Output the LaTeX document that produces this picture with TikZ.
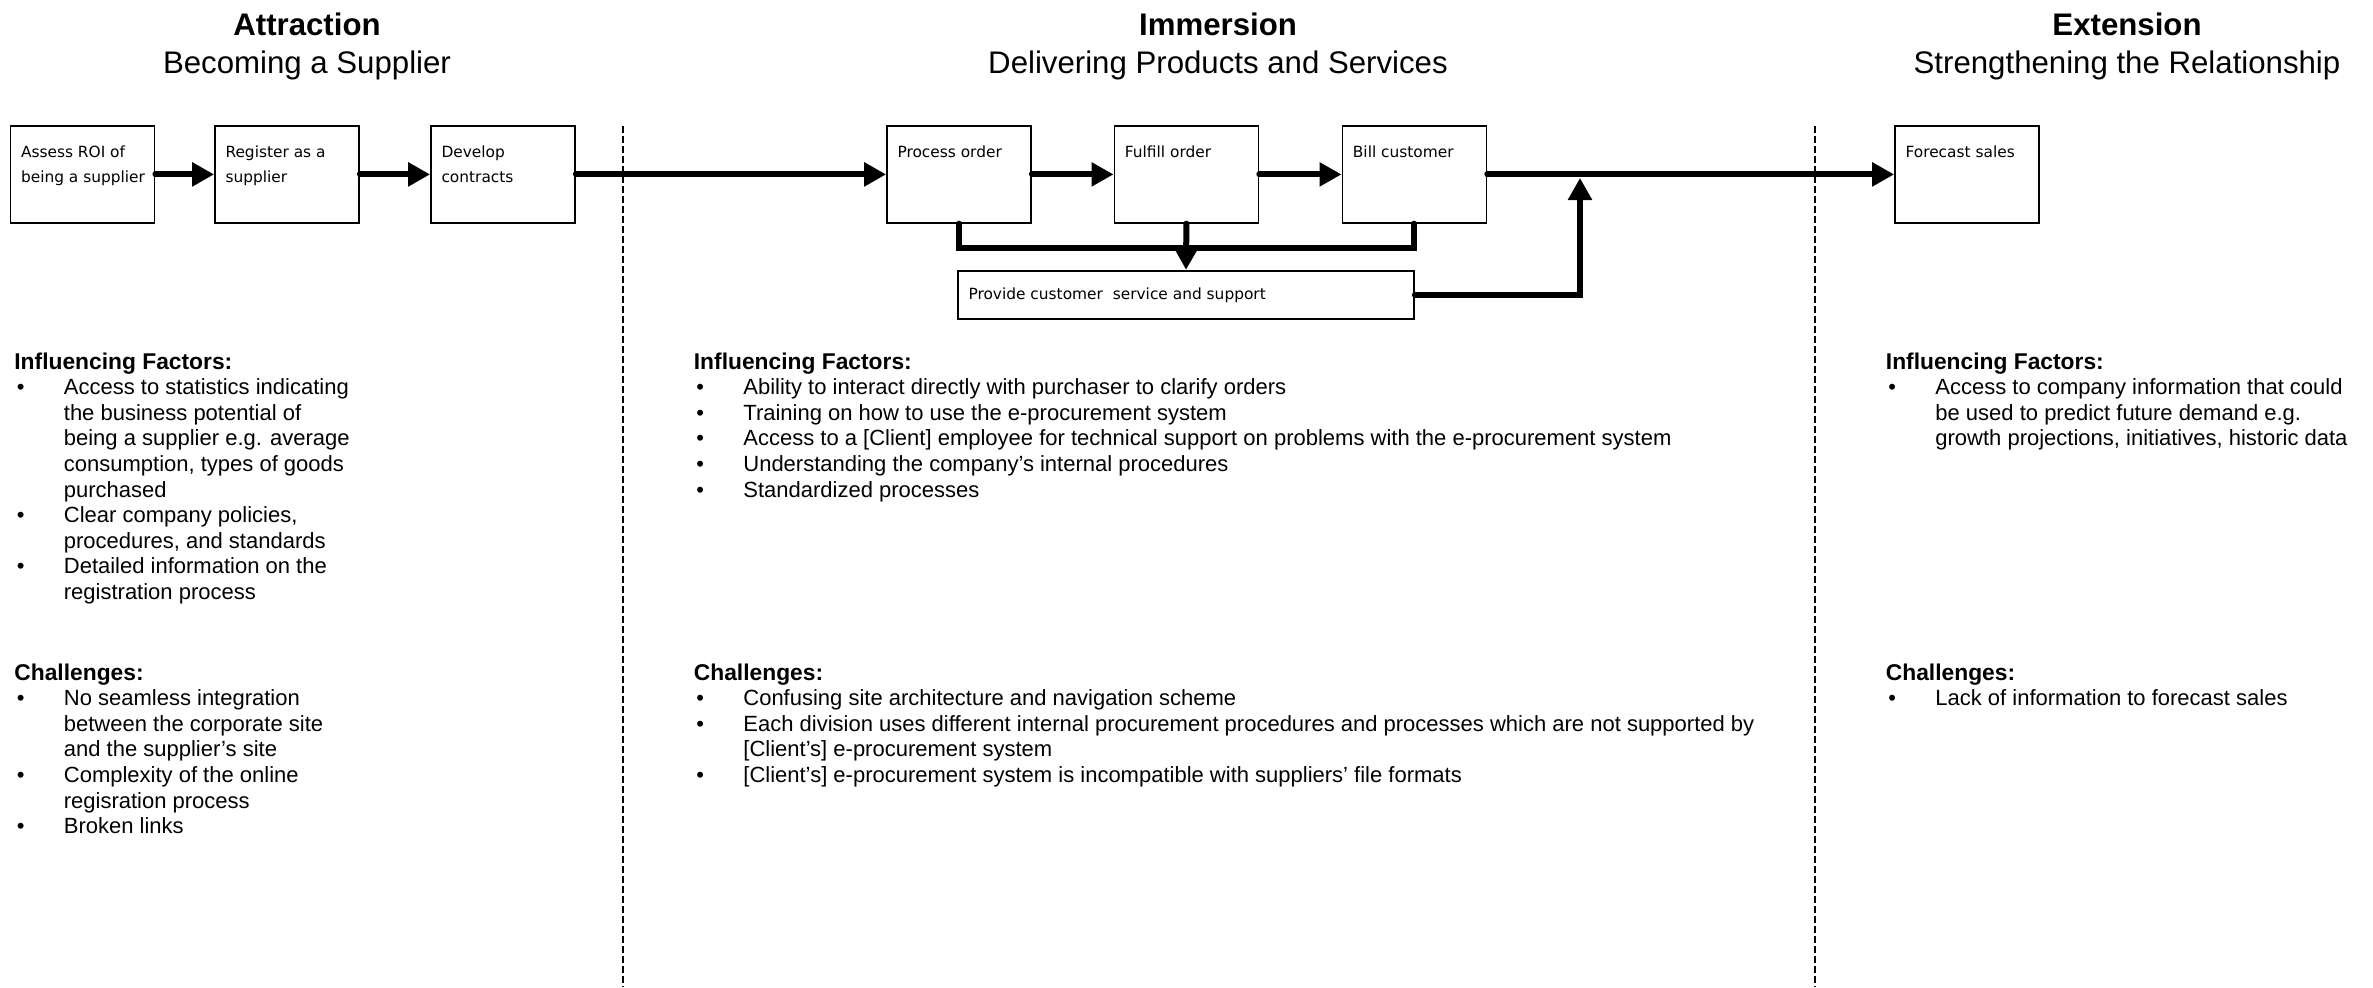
\documentclass[tikz,border=0pt]{standalone}
\usepackage{fontspec}
\setmainfont{Liberation Sans}
\newfontfamily\boxfont{DejaVu Sans}
\usetikzlibrary{arrows.meta}
\newcommand{\bul}[1]{\makebox[24.75pt][l]{\hspace*{1.25pt}\textbullet}#1}
\newcommand{\cnt}[1]{\hspace*{24.75pt}#1}
\newcommand{\hd}[1]{{\fontsize{11.4}{12.8}\selectfont\bfseries #1}}
\begin{document}
\begin{tikzpicture}[x=0.5pt,y=-0.5pt,
  pbox/.style={draw, line width=0.9pt, minimum width=72pt, minimum height=48.35pt, inner sep=0pt},
  wbox/.style={draw, line width=0.9pt, minimum width=228pt, minimum height=24pt, inner sep=0pt},
  btxt/.style={anchor=base west, inner sep=0pt, font=\boxfont\fontsize{7.7}{12.7}\selectfont},
  conn/.style={line width=3pt, line cap=round},
  arr/.style={-{Triangle[length=11pt,width=11.5pt]}},
  sepline/.style={line width=0.85pt, dash pattern=on 3.5pt off 1.5pt},
  ttl/.style={anchor=base, inner sep=0pt, font=\fontsize{15.6}{18}\selectfont\bfseries},
  sub/.style={anchor=base, inner sep=0pt, font=\fontsize{15.6}{18}\selectfont},
  col/.style={anchor=base west, inner sep=0pt, font=\fontsize{11}{12.8}\selectfont}
]
\fill[white] (0,0) rectangle (2373,987);
\useasboundingbox (0,0) rectangle (2373,987);

% titles
\node[ttl] (t1) at (307,35) {Attraction};
\node[sub] (s1) at (307,73) {Becoming a Supplier};
\node[ttl] (t2) at (1218,35) {Immersion};
\node[sub] (s2) at (1218,73) {Delivering Products and Services};
\node[ttl] (t3) at (2127,35) {Extension};
\node[sub] (s3) at (2127,73) {Strengthening the Relationship};

% separators
\coordinate (d1a) at (623,126);
\coordinate (d1b) at (623,987);
\coordinate (d2a) at (1815,126);
\coordinate (d2b) at (1815,987);
\draw[sepline] (d1a) -- (d1b);
\draw[sepline] (d2a) -- (d2b);

% process boxes
\node[pbox] (b1) at (82.5,174.4) {};
\node[pbox] (b2) at (287,174.4) {};
\node[pbox] (b3) at (503,174.4) {};
\node[pbox] (po) at (959,174.4) {};
\node[pbox] (fo) at (1186.4,174.4) {};
\node[pbox] (bc) at (1414.4,174.4) {};
\node[pbox] (fs) at (1967,174.4) {};
\node[wbox] (pc) at (1186,294.7) {};

\node[btxt] (b1t) at ([xshift=5.5pt,yshift=-16pt]b1.north west) {\begin{tabular}[t]{@{}l@{}}Assess ROI of\\being a supplier\end{tabular}};
\node[btxt] (b2t) at ([xshift=5.5pt,yshift=-16pt]b2.north west) {\begin{tabular}[t]{@{}l@{}}Register as a\\supplier\end{tabular}};
\node[btxt] (b3t) at ([xshift=5.5pt,yshift=-16pt]b3.north west) {\begin{tabular}[t]{@{}l@{}}Develop\\contracts\end{tabular}};
\node[btxt] (pot) at ([xshift=5.5pt,yshift=-16pt]po.north west) {Process order};
\node[btxt] (fot) at ([xshift=5.5pt,yshift=-16pt]fo.north west) {Fulfill order};
\node[btxt] (bct) at ([xshift=5.5pt,yshift=-16pt]bc.north west) {Bill customer};
\node[btxt] (fst) at ([xshift=5.5pt,yshift=-16pt]fs.north west) {Forecast sales};
\node[btxt] (pct) at ([xshift=5.5pt,yshift=-14.8pt]pc.north west) {Provide customer\ \ service and support};

% connectors
\draw[conn,arr] (b1.east) -- (b2.west);
\draw[conn,arr] (b2.east) -- (b3.west);
\draw[conn,arr] (b3.east) -- (po.west);
\draw[conn,arr] (po.east) -- (fo.west);
\draw[conn,arr] (fo.east) -- (bc.west);
\draw[conn,arr] (bc.east) -- (fs.west);
\draw[conn] (po.south) -- ++(0,24) -| (bc.south);
\draw[conn,arr] (fo.south) -- (pc.north);
\coordinate (j) at (1580,178);
\draw[conn,arr] (pc.east) -| (j);

% left column
\node[col] (lif) at (14,369) {\begin{tabular}[t]{@{}l@{}}
\hd{Influencing Factors:}\\
\bul{Access to statistics indicating}\\
\cnt{the business potential of}\\
\cnt{being a supplier e.g. average}\\
\cnt{consumption, types of goods}\\
\cnt{purchased}\\
\bul{Clear company policies,}\\
\cnt{procedures, and standards}\\
\bul{Detailed information on the}\\
\cnt{registration process}
\end{tabular}};
\node[col] (lch) at (14,680) {\begin{tabular}[t]{@{}l@{}}
\hd{Challenges:}\\
\bul{No seamless integration}\\
\cnt{between the corporate site}\\
\cnt{and the supplier's site}\\
\bul{Complexity of the online}\\
\cnt{regisration process}\\
\bul{Broken links}
\end{tabular}};

% middle column
\node[col] (mif) at (693.5,369) {\begin{tabular}[t]{@{}l@{}}
\hd{Influencing Factors:}\\
\bul{Ability to interact directly with purchaser to clarify orders}\\
\bul{Training on how to use the e-procurement system}\\
\bul{Access to a [Client] employee for technical support on problems with the e-procurement system}\\
\bul{Understanding the company's internal procedures}\\
\bul{Standardized processes}
\end{tabular}};
\node[col] (mch) at (693.5,680) {\begin{tabular}[t]{@{}l@{}}
\hd{Challenges:}\\
\bul{Confusing site architecture and navigation scheme}\\
\bul{Each division uses different internal procurement procedures and processes which are not supported by}\\
\cnt{[Client's] e-procurement system}\\
\bul{[Client's] e-procurement system is incompatible with suppliers' file formats}
\end{tabular}};

% right column
\node[col] (rif) at (1885.5,369) {\begin{tabular}[t]{@{}l@{}}
\hd{Influencing Factors:}\\
\bul{Access to company information that could}\\
\cnt{be used to predict future demand e.g.}\\
\cnt{growth projections, initiatives, historic data}
\end{tabular}};
\node[col] (rch) at (1885.5,680) {\begin{tabular}[t]{@{}l@{}}
\hd{Challenges:}\\
\bul{Lack of information to forecast sales}
\end{tabular}};
\end{tikzpicture}
\end{document}
